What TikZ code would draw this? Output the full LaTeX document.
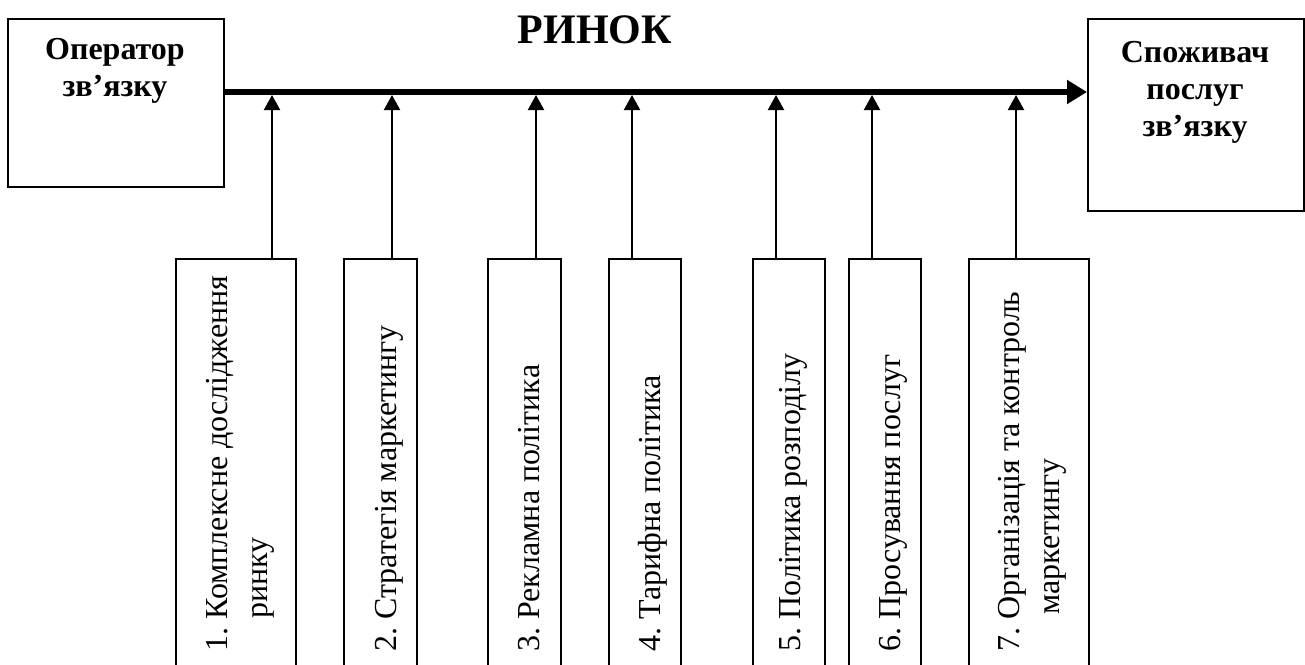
\documentclass[tikz,border=0pt]{standalone}
\usepackage{fontspec}
\setmainfont{Liberation Serif}
\frenchspacing
\usetikzlibrary{arrows.meta,positioning}

\tikzset{
  partbox/.style={draw, line width=1pt, anchor=north west, minimum width=108pt, minimum height=84pt, inner sep=0pt},
  toolbox/.style={draw, line width=1pt, anchor=north west, minimum height=230pt, inner sep=0pt},
  headtext/.style={anchor=north, inner sep=0pt, align=center, font=\fontsize{16}{18.5}\selectfont\bfseries},
  tooltext/.style={rotate=90, anchor=base west, inner sep=0pt, align=left, font=\fontsize{16}{20}\selectfont},
  feed/.style={line width=1pt, -{Triangle[length=7.5pt,width=8pt]}},
  market/.style={line width=3pt, -{Triangle[length=10pt,width=11.5pt]}}
}

\begin{document}
\begin{tikzpicture}[x=0.5pt, y=-0.5pt]
  \useasboundingbox (0,0) rectangle (1305,664);
  \clip (0,0) rectangle (1305,664);

  \node (title) [anchor=base, inner sep=0pt, font=\fontsize{21}{25}\selectfont\bfseries] at (595,43) {РИНОК};

  \node (op) [partbox] at (7,18) {};
  \node (cons) [partbox, minimum height=96pt] at (1087,18) {};
  \node (optext) [headtext] at (115,38) {Оператор\\зв’язку};
  \node (constext) [headtext] at (1195,41) {Споживач\\послуг\\зв’язку};

  \coordinate (mk) at (0,92);
  \draw[market] (op.east |- mk) -- (cons.west |- mk);

  % factors
  \node (f1) [toolbox, minimum width=60pt] at (175,258) {};
  \node (f2) [toolbox, minimum width=36.5pt] at (343,258) {};
  \node (f3) [toolbox, minimum width=36.5pt] at (487,258) {};
  \node (f4) [toolbox, minimum width=36pt] at (608,258) {};
  \node (f5) [toolbox, minimum width=36pt] at (752,258) {};
  \node (f6) [toolbox, minimum width=36pt] at (848,258) {};
  \node (f7) [toolbox, minimum width=60pt] at (968,258) {};

  \node (t1) [tooltext] at (267,652) {1. Комплексне дослідження\\\hspace*{16.5pt}ринку};
  \node (t2) [tooltext] at (396,652) {2. Стратегія маркетингу};
  \node (t3) [tooltext] at (539,652) {3. Рекламна політика};
  \node (t4) [tooltext] at (660,652) {4. Тарифна політика};
  \node (t5) [tooltext] at (800,652) {5. Політика розподілу};
  \node (t6) [tooltext] at (900,652) {6. Просування послуг};
  \node (t7) [tooltext] at (1059,652) {7. Організація та контроль\\\hspace*{18.5pt}маркетингу};

  \foreach \i/\x in {1/272,2/392,3/536,4/632,5/776,6/872,7/1016} {
    \coordinate (a\i) at (\x,95);
    \draw[feed] (a\i |- f\i.north) -- (a\i);
  }
\end{tikzpicture}
\end{document}
